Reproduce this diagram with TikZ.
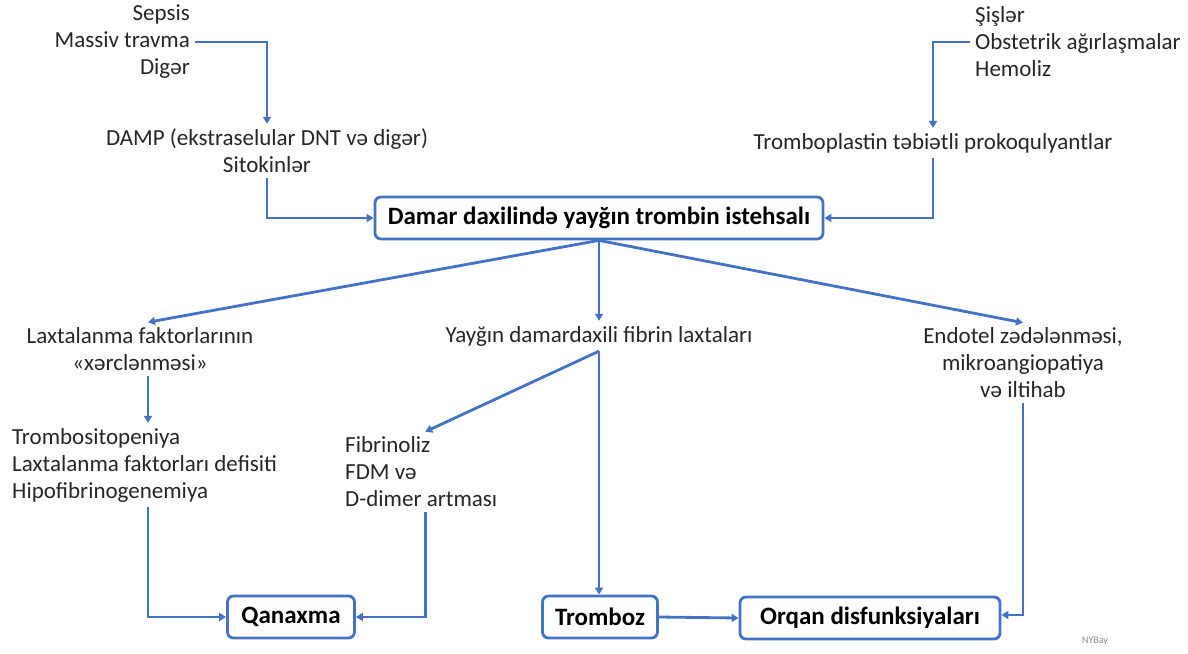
\documentclass[tikz,border=0pt]{standalone}
\usepackage{fontspec}
\setmainfont{Carlito}
\usetikzlibrary{arrows.meta}
\definecolor{lnblue}{HTML}{4472C4}
\begin{document}
\begin{tikzpicture}[x=1pt,y=-1pt,
  txt/.style={inner sep=5pt, font=\fontsize{23}{27}\selectfont, text=black!85},
  box/.style={draw=lnblue, line width=2.8pt, rounded corners=6pt, fill=white,
    font=\fontsize{25}{28}\selectfont\bfseries, inner xsep=9pt, inner ysep=0pt,
    minimum height=42pt, text=black},
  conn/.style={draw=lnblue, line width=2.8pt, -{Triangle[width=8pt,length=7pt]}}
]
\useasboundingbox (0,0) rectangle (1188,653);
% sources
\node[txt, align=right, anchor=east] (src1) at (195,42) {Sepsis\\Massiv travma\\Digər};
\node[txt, align=center] (damp) at (267,151) {DAMP (ekstraselular DNT və digər)\\Sitokinlər};
\node[txt, align=left, anchor=west] (src2) at (970,42) {Şişlər\\Obstetrik ağırlaşmalar\\Hemoliz};
\node[txt, align=center] (tpl) at (933,143) {Tromboplastin təbiətli prokoqulyantlar};
% main
\node[box, minimum width=448pt] (main) at (599,218) {Damar daxilində yayğın trombin istehsalı};
% second level
\node[txt, align=center] (lax) at (140,349) {Laxtalanma faktorlarının\\«xərclənməsi»};
\node[txt, align=center] (fib) at (599,336) {Yayğın damardaxili fibrin laxtaları};
\node[txt, align=center] (endo) at (1023,363) {Endotel zədələnməsi,\\mikroangiopatiya\\və iltihab};
% third level
\node[txt, align=left, anchor=west] (trc) at (7,465) {Trombositopeniya\\Laxtalanma faktorları defisiti\\Hipofibrinogenemiya};
\node[txt, align=left, anchor=west] (fdm) at (340,472) {Fibrinoliz\\FDM və\\D-dimer artması};
% outcomes
\node[box, minimum width=127pt] (qan) at (291,617) {Qanaxma};
\node[box, minimum width=115pt] (trz) at (600,617) {Tromboz};
\node[box, minimum width=260pt] (org) at (870,618) {Orqan disfunksiyaları};
\node[font=\fontsize{10}{12}\selectfont, text=black!45] (nyb) at (1095,641) {NYBay};
% connectors
\draw[conn] (src1.east) -| (damp.north);
\draw[conn] (damp.south) |- (main.west);
\draw[conn] (src2.west) -| (tpl.north);
\draw[conn] (tpl.south) |- (main.east);
\draw[conn] (main.south) -- ([xshift=8pt]lax.north);
\draw[conn] (main.south) -- (fib.north);
\draw[conn] (main.south) -- (endo.north);
\draw[conn] ([xshift=8pt]lax.south) -- ([xshift=8pt]lax.south |- trc.north);
\draw[conn] (fib.south) -- ([xshift=4pt]fdm.north);
\draw[conn] (fib.south) -- (fib.south |- trz.north);
\draw[conn] ([xshift=141pt]trc.south west) |- (qan.west);
\draw[conn] ([xshift=4pt]fdm.south) |- (qan.east);
\draw[conn] (trz.east) -- (org.west);
\draw[conn] (endo.south) |- ([yshift=3pt]org.east);
\end{tikzpicture}
\end{document}
